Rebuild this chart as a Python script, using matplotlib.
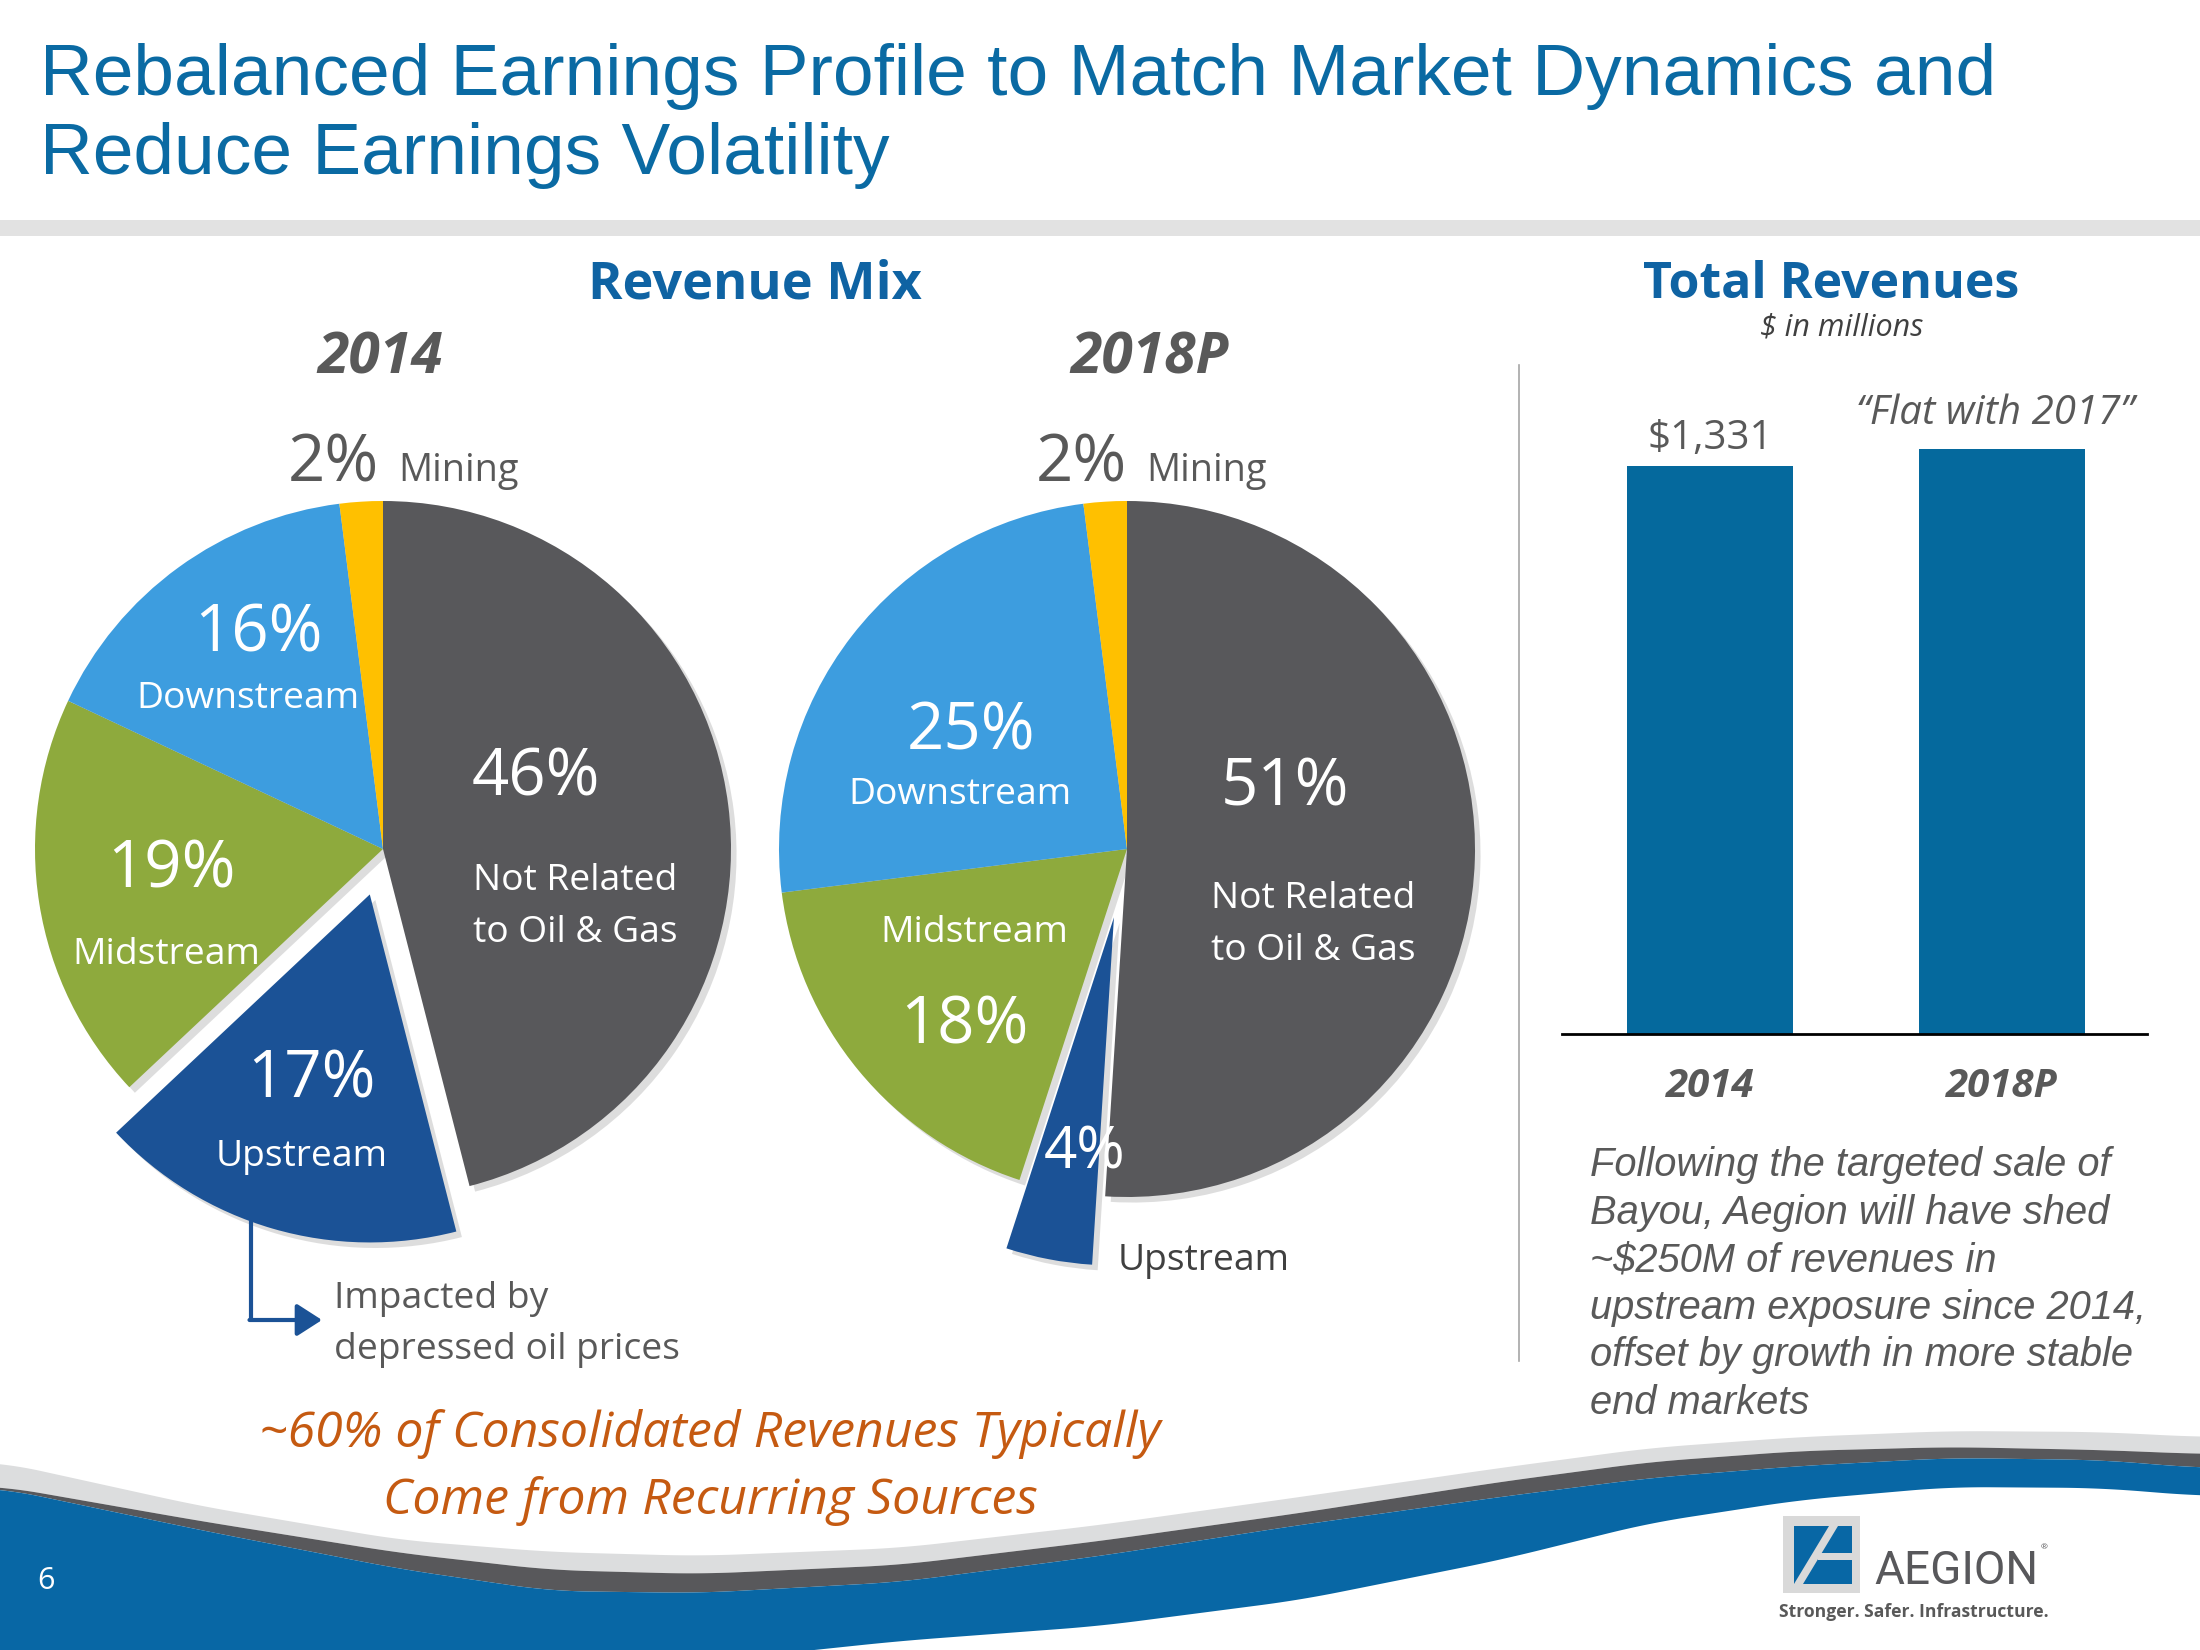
import numpy as np
import matplotlib
matplotlib.use('Agg')
import matplotlib.pyplot as plt
from matplotlib.patches import Rectangle, Polygon, Shadow

# ---------------- data ----------------
segments = ['Not Related to Oil & Gas', 'Upstream', 'Midstream', 'Downstream', 'Mining']
mix_2014 = [46, 17, 19, 16, 2]
mix_2018 = [51, 4, 18, 25, 2]
bar_years = ['2014', '2018P']
total_revenue = [1331, 1370]

seg_colors = ['#58585B', '#1B5296', '#8EAA3D', '#3D9DDF', '#FFC000']
BLUE_T = '#0A6AA3'
GREY_T = '#595959'
SANS = 'Open Sans'

W, H = 2200, 1650
fig = plt.figure(figsize=(22, 16.5), dpi=100)
bg = fig.add_axes([0, 0, 1, 1])


def T(x, y, s, **kw):
    kw.setdefault('ha', 'center')
    kw.setdefault('va', 'center')
    kw.setdefault('family', SANS)
    return bg.text(x, H - y, s, **kw)


# ---------------- footer wave ----------------
wx = np.array([0, 200, 400, 550, 700, 900, 1100, 1300, 1500, 1650, 1800, 1950, 2100, 2200])
top_lt = np.array([1462, 1506, 1540, 1552, 1556, 1548, 1525, 1497, 1468, 1448, 1437, 1431, 1432, 1437])
top_dk = np.array([1486, 1521, 1553, 1570, 1574, 1565, 1541, 1513, 1482, 1462, 1451, 1447, 1450, 1454])
top_bl = np.array([1488, 1530, 1569, 1591, 1593, 1582, 1556, 1525, 1497, 1478, 1466, 1458, 1460, 1468])
bot_bl = np.array([1700, 1700, 1700, 1700, 1662, 1641, 1626, 1600, 1560, 1523, 1500, 1487, 1488, 1496])

xs = np.linspace(-100, 2300, 1201)


def smooth(ctrl):
    y = np.interp(xs, wx, ctrl)
    k = 41
    pad = np.pad(y, k // 2, mode='edge')
    return np.convolve(pad, np.ones(k) / k, mode='valid')


yl, yd, yb, yB = smooth(top_lt), smooth(top_dk), smooth(top_bl), smooth(bot_bl)
bg.fill_between(xs, H - yl, H - yd, color='#DCDDDE', lw=0, zorder=0.2)
bg.fill_between(xs, H - yd, H - yb, color='#58585B', lw=0, zorder=0.2)
bg.fill_between(xs, H - yb, H - yB, color='#0867A5', lw=0, zorder=0.2)

# ---------------- header ----------------
T(40, 95, 'Rebalanced Earnings Profile to Match Market Dynamics and', ha='left', va='baseline',
  family='Liberation Sans', fontsize=52.7, color=BLUE_T)
T(40, 174, 'Reduce Earnings Volatility', ha='left', va='baseline',
  family='Liberation Sans', fontsize=52.7, color=BLUE_T)
bg.add_patch(Rectangle((0, H - 236), W, 16, color='#E2E2E2', lw=0, zorder=0.2))

T(755, 285, 'Revenue Mix', fontsize=37.6, fontweight='bold', color='#0F63A3')
T(1831, 285, 'Total Revenues', fontsize=36, fontweight='bold', color='#0F63A3')
T(1842, 327, '$ in millions', fontsize=22, style='italic', color='#404040')

T(380, 359, '2014', fontsize=41, fontweight='bold', style='italic', color=GREY_T)
T(1150, 359, '2018P', fontsize=41, fontweight='bold', style='italic', color=GREY_T)

# divider
bg.plot([1519, 1519], [H - 365, H - 1361], color='#A6A6A6', lw=1.2, zorder=0.3)

# ---------------- pies ----------------
R = 348


def draw_pie(vals, cx, cy, explode_up):
    wedges, _ = bg.pie(vals, colors=seg_colors, startangle=90, counterclock=False,
                       explode=[0, explode_up * R, 0, 0, 0], center=(cx, H - cy), radius=R,
                       frame=True, wedgeprops=dict(linewidth=0))
    for w in wedges:
        bg.add_patch(Shadow(w, 4, -4, facecolor='#B5B5B5', edgecolor='none',
                            alpha=0.45, zorder=0.6))
    return wedges


draw_pie(mix_2014, 383, 849, 0.136)
draw_pie(mix_2018, 1127, 849, 0.2)

PCT = 47
LAB = 26.8
# 2014 labels
T(379, 481, f'{mix_2014[4]}%', ha='right', va='baseline', fontsize=PCT, color=GREY_T)
T(398, 481, 'Mining', ha='left', va='baseline', fontsize=27.3, color=GREY_T)
T(258, 634, f'{mix_2014[3]}%', fontsize=PCT, color='white')
T(248, 699, 'Downstream', fontsize=LAB, color='white')
T(536, 779, f'{mix_2014[0]}%', fontsize=PCT, color='white')
T(575, 881, 'Not Related', fontsize=LAB, color='white')
T(575, 933, 'to Oil & Gas', fontsize=LAB, color='white')
T(171, 870, f'{mix_2014[2]}%', fontsize=PCT, color='white')
T(166, 955, 'Midstream', fontsize=LAB, color='white')
T(311, 1080, f'{mix_2014[1]}%', fontsize=PCT, color='white')
T(302, 1157, 'Upstream', fontsize=LAB, color='white')

bg.plot([251, 251], [H - 1219, H - 1320], color='#1B5296', lw=3, solid_capstyle='butt', zorder=2)
bg.annotate('', xy=(322, H - 1320), xytext=(249.5, H - 1320),
            arrowprops=dict(arrowstyle='-|>,head_length=0.7,head_width=0.45', color='#1B5296',
                            lw=3, shrinkA=0, shrinkB=0, mutation_scale=22), zorder=2)
T(334, 1299, 'Impacted by', ha='left', fontsize=LAB, color=GREY_T)
T(334, 1350, 'depressed oil prices', ha='left', fontsize=LAB, color=GREY_T)

# 2018P labels
T(1127, 481, f'{mix_2018[4]}%', ha='right', va='baseline', fontsize=PCT, color=GREY_T)
T(1146, 481, 'Mining', ha='left', va='baseline', fontsize=27.3, color=GREY_T)
T(971, 732, f'{mix_2018[3]}%', fontsize=PCT, color='white')
T(960, 795, 'Downstream', fontsize=LAB, color='white')
T(1285, 788, f'{mix_2018[0]}%', fontsize=PCT, color='white')
T(1313, 899, 'Not Related', fontsize=LAB, color='white')
T(1313, 951, 'to Oil & Gas', fontsize=LAB, color='white')
T(974, 933, 'Midstream', fontsize=LAB, color='white')
T(964, 1027, f'{mix_2018[2]}%', fontsize=PCT, color='white')
T(1085, 1153, f'{mix_2018[1]}%', fontsize=42, color='white', zorder=5)
T(1204, 1261, 'Upstream', fontsize=LAB, color='#404040')

# bottom callout
T(710, 1434, '~60% of Consolidated Revenues Typically', fontsize=36, style='italic', color='#C55A11')
T(710, 1501, 'Come from Recurring Sources', fontsize=36, style='italic', color='#C55A11')

# paragraph
para = ['Following the targeted sale of', 'Bayou, Aegion will have shed',
        '~$250M of revenues in', 'upstream exposure since 2014,',
        'offset by growth in more stable', 'end markets']
for i, line in enumerate(para):
    T(1590, 1165 + i * 47.6, line, ha='left', family='Liberation Sans', style='italic',
      fontsize=28.7, color=GREY_T)

# page number
T(46, 1581, '6', fontsize=22, color='white')

# logo
bg.add_patch(Rectangle((1783, H - 1593), 77, 77, color='#D9D9D9', lw=0, zorder=1))
bg.add_patch(Rectangle((1794, H - 1584), 58, 58, color='#0867A5', lw=0, zorder=1.1))
bg.add_patch(Polygon([(1794, H - 1584), (1803, H - 1584), (1838, H - 1526), (1829, H - 1526)],
                     closed=True, color='#D9D9D9', lw=0, zorder=1.2))
bg.add_patch(Rectangle((1818, H - 1560), 34, 7, color='#D9D9D9', lw=0, zorder=1.2))
T(1874, 1584, 'AEGION', ha='left', va='baseline', family='Roboto', fontsize=33, color='#58585B')
T(2041, 1548, '®', ha='left', fontsize=6, color='#58585B')
T(1914, 1612, 'Stronger. Safer. Infrastructure.', fontsize=12.6, fontweight='bold', color=GREY_T)

bg.set_xlim(0, W)
bg.set_ylim(0, H)
bg.set_aspect('auto')
bg.axis('off')

# ---------------- bar chart ----------------
base_y, top_y = 1034, 421
bx = fig.add_axes([1562 / W, (H - base_y) / H, 585 / W, (base_y - top_y) / H])
bx.bar(range(len(total_revenue)), total_revenue, width=0.57, color='#05699D')
bx.set_xlim(-0.507, 1.497)
bx.set_ylim(0, 1436)
for s in ['top', 'left', 'right']:
    bx.spines[s].set_visible(False)
bx.spines['bottom'].set_linewidth(2)
bx.spines['bottom'].set_color('black')
bx.set_yticks([])
bx.set_xticks(range(len(bar_years)))
bx.set_xticklabels(bar_years, fontsize=29, fontweight='bold', style='italic',
                   color=GREY_T, family=SANS)
bx.tick_params(axis='x', length=0, pad=24)
bx.patch.set_alpha(0)
bx.annotate(f'${total_revenue[0]:,}', xy=(0, total_revenue[0]), xytext=(0, 12),
            textcoords='offset points', ha='center', va='baseline', fontsize=29,
            color=GREY_T, family=SANS)
bx.annotate('\u201cFlat with 2017\u201d', xy=(1, total_revenue[1]), xytext=(-5, 18),
            textcoords='offset points', ha='center', va='baseline', fontsize=29,
            style='italic', color=GREY_T, family=SANS)

fig.savefig('out.png', dpi=100)
